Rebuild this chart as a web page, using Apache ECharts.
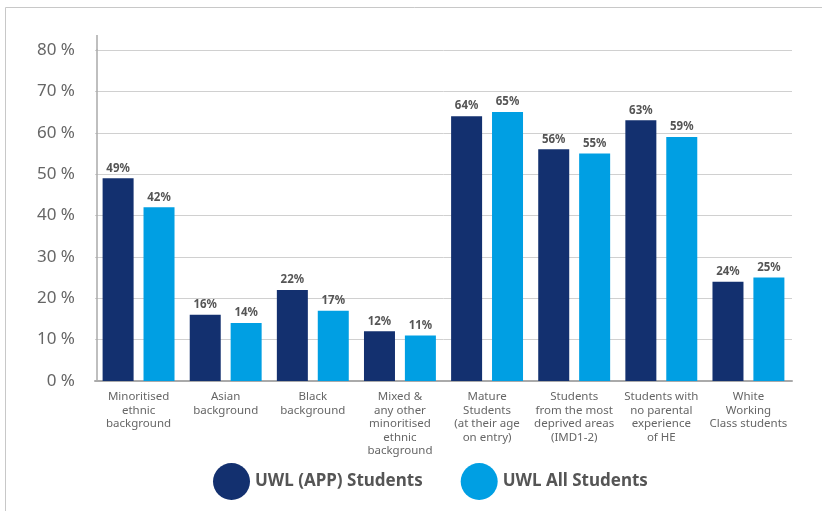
<!DOCTYPE html>
<html>
<head>
<meta charset="utf-8">
<script src="https://cdn.jsdelivr.net/npm/echarts@6/dist/echarts.min.js"></script>
<style>
  html, body { margin: 0; padding: 0; background: #fff; }
  #chart { width: 822px; height: 511px; }
</style>
</head>
<body>
<div id="chart"></div>
<script>
// Student groups shown along the x axis
const categories = [
  'Minoritised\nethnic\nbackground',
  'Asian\nbackground',
  'Black\nbackground',
  'Mixed &\nany other\nminoritised\nethnic\nbackground',
  'Mature\nStudents\n(at their age\non entry)',
  'Students\nfrom the most\ndeprived areas\n(IMD1-2)',
  'Students with\nno parental\nexperience\nof HE',
  'White\nWorking\nClass students'
];
const seriesNames = ['UWL (APP) Students', 'UWL All Students'];
const appStudents = [49, 16, 22, 12, 64, 56, 63, 24];
const allStudents = [42, 14, 17, 11, 65, 55, 59, 25];
const yTicks = [0, 10, 20, 30, 40, 50, 60, 70, 80];

const navy = '#13306f';
const cyan = '#009fe3';
const font = 'Noto Sans';

const chart = echarts.init(document.getElementById('chart'), null, { renderer: 'canvas' });

const barLabel = {
  show: true,
  position: 'top',
  distance: 4,
  formatter: '{c}%',
  fontFamily: font,
  fontSize: 11.5,
  fontWeight: 'bold',
  color: '#555'
};

chart.setOption({
  animation: false,
  backgroundColor: '#fff',
  textStyle: { fontFamily: font },
  grid: { left: 95, right: 30, top: 50, bottom: 130, containLabel: false },
  legend: {
    data: seriesNames,
    left: 213,
    top: 463,
    padding: 0,
    icon: 'circle',
    itemWidth: 37,
    itemHeight: 37,
    itemGap: 38,
    textStyle: { fontFamily: font, fontSize: 17, fontWeight: 'bold', color: '#555' }
  },
  xAxis: {
    type: 'category',
    data: categories,
    axisLine: { show: true, lineStyle: { color: '#aaa', width: 2 } },
    axisTick: { show: false },
    axisLabel: {
      interval: 0,
      margin: 9,
      fontFamily: font,
      fontSize: 11.5,
      lineHeight: 13.5,
      color: '#666',
      align: 'center',
      verticalAlign: 'top'
    }
  },
  yAxis: {
    type: 'value',
    min: yTicks[0],
    max: yTicks[yTicks.length - 1],
    interval: 10,
    offset: -2,
    axisLine: { show: true, lineStyle: { color: '#aaa', width: 1.5 } },
    axisTick: { show: false },
    splitLine: { lineStyle: { color: '#d0d0d0', width: 1 } },
    axisLabel: {
      formatter: v => v + ' %',
      margin: 22,
      fontFamily: font,
      fontSize: 17,
      color: '#666'
    }
  },
  series: [
    {
      name: seriesNames[0],
      type: 'bar',
      data: appStudents,
      barWidth: 31,
      barGap: '32%',
      itemStyle: { color: navy },
      label: barLabel
    },
    {
      name: seriesNames[1],
      type: 'bar',
      data: allStudents,
      barWidth: 31,
      itemStyle: { color: cyan },
      label: barLabel
    }
  ],
  graphic: [
    {
      type: 'rect',
      shape: { x: 5.5, y: 7.5, width: 900, height: 600 },
      style: { fill: 'none', stroke: '#c8c8c8', lineWidth: 1 },
      silent: true
    },
    {
      type: 'line',
      shape: { x1: 97, y1: 35, x2: 97, y2: 50 },
      style: { stroke: '#aaa', lineWidth: 1.5 },
      silent: true
    }
  ]
});
</script>
</body>
</html>
